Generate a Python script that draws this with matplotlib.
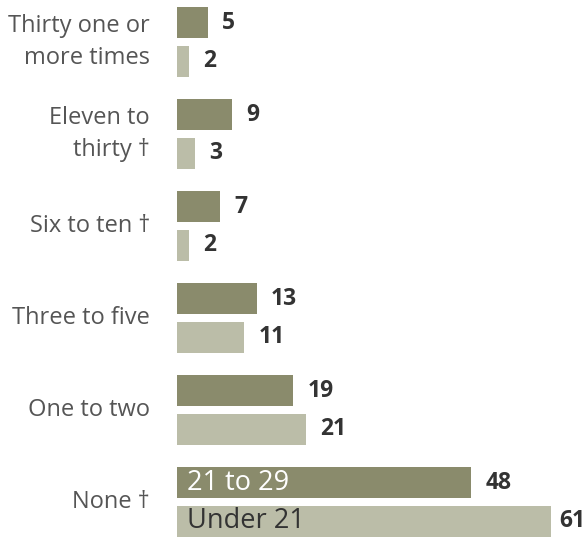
import matplotlib
matplotlib.use("Agg")
import matplotlib.pyplot as plt
import numpy as np

categories = ["Thirty one or\nmore times", "Eleven to\nthirty \u2020", "Six to ten \u2020",
              "Three to five", "One to two", "None \u2020"]
series_names = ["21 to 29", "Under 21"]
age_21_29 = [5, 9, 7, 13, 19, 48]
under_21 = [2, 3, 2, 11, 21, 61]

dark = "#8a8b6c"
light = "#bbbda8"

plt.rcParams['font.family'] = ['Open Sans', 'DejaVu Sans']

W, H = 587, 537
fig = plt.figure(figsize=(W / 100, H / 100), dpi=100)
left_px = 177
ax = fig.add_axes([left_px / W, 0, 1 - left_px / W, 1])
px_per_unit = 6.13
ax.set_xlim(0, (W - left_px) / px_per_unit)
ax.set_ylim(H, 0)
ax.axis("off")

idx = np.arange(len(categories))
centers = 42 + 92 * idx
off = 19.25
bh = 31

b1 = ax.barh(centers - off, age_21_29, height=bh, color=dark)
b2 = ax.barh(centers + off, under_21, height=bh, color=light)

fig.canvas.draw()
for bars, vals in ((b1, age_21_29), (b2, under_21)):
    for rect, v in zip(bars, vals):
        end_px = ax.transData.transform((rect.get_width(), 0))[0]
        gap = 14 if end_px + 14 + 28 <= W else 8
        ax.annotate(str(v), (rect.get_width(), rect.get_y() + rect.get_height() / 2),
                    xytext=(gap, 0), textcoords="offset pixels",
                    ha="left", va="center", fontsize=16.5, fontweight="bold",
                    color="#333333", annotation_clip=False)

for c, lab in zip(centers, categories):
    ax.annotate(lab, (0, c), xytext=(-27, 0), textcoords="offset pixels",
                ha="right", va="center", fontsize=17, color="#555555",
                linespacing=1.4, annotation_clip=False)

# in-bar series labels on the last group
last = len(categories) - 1
ax.annotate(series_names[0], (0, centers[last] - off), xytext=(10, 0),
            textcoords="offset pixels", ha="left", va="center",
            fontsize=19.5, color="white")
ax.annotate(series_names[1], (0, centers[last] + off), xytext=(10, 0),
            textcoords="offset pixels", ha="left", va="center",
            fontsize=19.5, color="#333333")

fig.savefig("out.png", dpi=100)
